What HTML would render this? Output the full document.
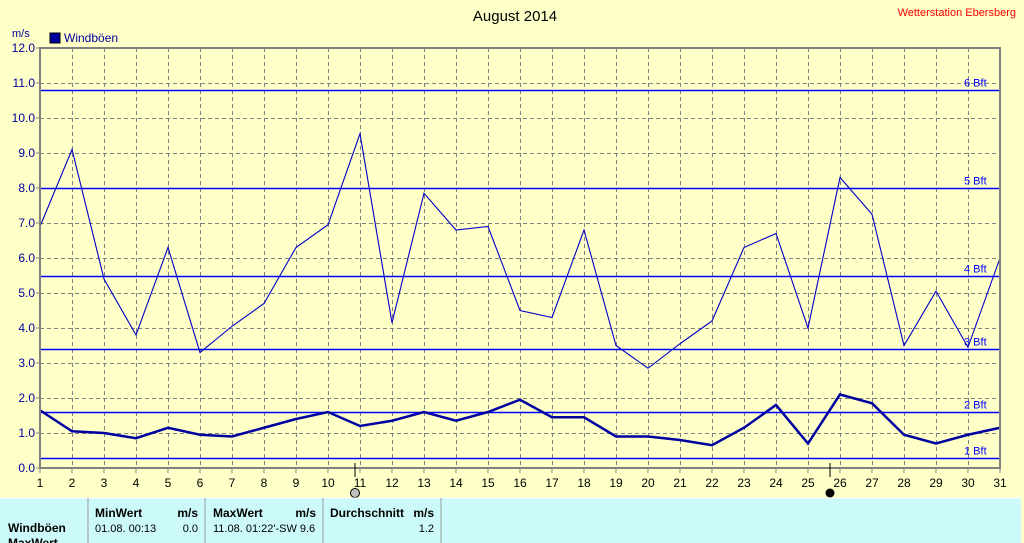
<!DOCTYPE html>
<html><head><meta charset="utf-8"><style>
body{margin:0;width:1024px;height:543px;background:#ffffc8;overflow:hidden;font-family:"Liberation Sans",sans-serif}
svg{position:absolute;left:0;top:0}
</style></head><body>
<svg id="s" width="1024" height="543" xmlns="http://www.w3.org/2000/svg" font-family="Liberation Sans, sans-serif"></svg>
<script>
const s=document.getElementById('s');let h='';
const X=d=>40+(d-1)*32, Y=v=>468-v*35;
for(let d=2;d<=30;d++)h+=`<line x1="${X(d)+.5}" y1="48" x2="${X(d)+.5}" y2="468" stroke="#808080" stroke-dasharray="4,3"/>`;
for(let v=1;v<12;v++)h+=`<line x1="40" y1="${Y(v)+.5}" x2="1000" y2="${Y(v)+.5}" stroke="#808080" stroke-dasharray="4,3"/>`;
[[0.3,'1 Bft'],[1.6,'2 Bft'],[3.4,'3 Bft'],[5.5,'4 Bft'],[8.0,'5 Bft'],[10.8,'6 Bft']].forEach(([v,t])=>{
const y=Math.round(Y(v))+.5;
h+=`<line x1="40" y1="${y}" x2="1000" y2="${y}" stroke="#0000ff" stroke-width="1.5"/>`;
h+=`<text x="964" y="${y-4}" font-size="11" fill="#0000ff">${t}</text>`;});
const up=[6.9,9.1,5.4,3.8,6.3,3.3,4.05,4.7,6.3,6.95,9.55,4.15,7.85,6.8,6.9,4.5,4.3,6.8,3.5,2.85,3.55,4.2,6.3,6.7,4.0,8.3,7.25,3.5,5.05,3.45,6.0];
const lo=[1.65,1.05,1.0,0.85,1.15,0.95,0.9,1.15,1.4,1.6,1.2,1.35,1.6,1.35,1.6,1.95,1.45,1.45,0.9,0.9,0.8,0.65,1.15,1.8,0.7,2.1,1.85,0.95,0.7,0.95,1.15];
h+=`<polyline fill="none" stroke="#0000c8" stroke-width="1.1" points="${up.map((v,i)=>X(i+1)+','+Y(v)).join(' ')}"/>`;
h+=`<polyline fill="none" stroke="#0000a0" stroke-width="2.5" points="${lo.map((v,i)=>X(i+1)+','+Y(v)).join(' ')}"/>`;
h+=`<rect x="40" y="48" width="960" height="420" fill="none" stroke="#808080" stroke-width="2"/>`;
for(let v=0;v<=12;v++)h+=`<line x1="36" y1="${Y(v)}" x2="40" y2="${Y(v)}" stroke="#808080"/><text x="35" y="${Y(v)+4}" font-size="12" fill="#0000a0" text-anchor="end">${v.toFixed(1)}</text>`;
for(let d=1;d<=31;d++)h+=`<line x1="${X(d)}" y1="468" x2="${X(d)}" y2="473" stroke="#808080"/><text x="${X(d)}" y="487" font-size="12" text-anchor="middle">${d}</text>`;
h+=`<line x1="355" y1="463" x2="355" y2="477" stroke="#000"/><circle cx="355" cy="493" r="4.5" fill="#c0c0c0" stroke="#000"/>`;
h+=`<line x1="830" y1="463" x2="830" y2="477" stroke="#000"/><circle cx="830" cy="493" r="4.5" fill="#000"/>`;
h+=`<text x="12" y="37" font-size="11" fill="#0000a0">m/s</text><rect x="50" y="33" width="10" height="10" fill="#0000a0" stroke="#000"/><text x="64" y="42" font-size="12" fill="#0000a0">Windböen</text>`;
h+=`<text x="515" y="21" font-size="15" text-anchor="middle">August 2014</text><text x="1016" y="16" font-size="11" fill="#ff0000" text-anchor="end">Wetterstation Ebersberg</text>`;
h+=`<rect x="0" y="498" width="1021" height="45" fill="#ccfafa"/><line x1="0" y1="498" x2="1021" y2="498" stroke="#fff"/>`;
[88,205,323,441].forEach(x=>h+=`<line x1="${x}" y1="498" x2="${x}" y2="543" stroke="#999"/>`);
h+=`<g font-size="12" font-weight="bold"><text x="95" y="517">MinWert</text><text x="198" y="517" text-anchor="end">m/s</text><text x="213" y="517">MaxWert</text><text x="316" y="517" text-anchor="end">m/s</text><text x="330" y="517">Durchschnitt</text><text x="434" y="517" text-anchor="end">m/s</text><text x="8" y="532">Windböen</text><text x="8" y="547">MaxWert</text></g>`;
h+=`<g font-size="11"><text x="95" y="532">01.08.  00:13</text><text x="198" y="532" text-anchor="end">0.0</text><text x="213" y="532">11.08.  01:22'-SW 9.6</text><text x="434" y="532" text-anchor="end">1.2</text></g>`;
s.innerHTML=h;
</script>
</body></html>
